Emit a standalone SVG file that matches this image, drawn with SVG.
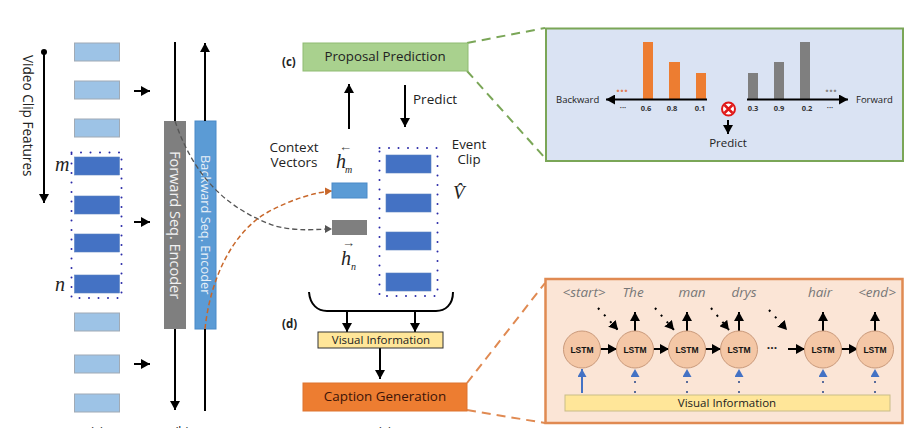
<svg xmlns="http://www.w3.org/2000/svg" width="913" height="428" viewBox="0 0 913 428">
<style>
text{font-family:"Open Sans","Noto Sans","Liberation Sans",sans-serif;fill:#222}
.s{font-family:"Liberation Serif",serif;font-style:italic}
.l{fill:#9dc3e6;stroke:#a0aab5;stroke-width:1}
.d{fill:#4472c4;stroke:#5a80c0;stroke-width:.6}
.k{stroke:#000;stroke-width:2;fill:none}
.dot{fill:none;stroke:#2a2aa8;stroke-width:2;stroke-linecap:round;stroke-dasharray:0 9.5}
.lstm{fill:#f4c7a6;stroke:#c9997a;stroke-width:1}
.lt{font-family:"Liberation Sans",sans-serif;font-size:8.5px;font-weight:bold;text-anchor:middle;fill:#111}
.w{font-size:13.500px;font-style:italic;fill:#777;text-anchor:middle}
.n{font-size:7.5px;font-weight:bold;text-anchor:middle;fill:#333}
</style>
<defs>
<marker id="a" markerUnits="userSpaceOnUse" markerWidth="10" markerHeight="10" refX="9" refY="5" orient="auto"><path d="M0 0L9 5L0 10Z" fill="#000"/></marker>
<marker id="ab" markerUnits="userSpaceOnUse" markerWidth="9" markerHeight="9" refX="8" refY="4.5" orient="auto"><path d="M0 0L8 4.5L0 9Z" fill="#4472c4"/></marker>
<marker id="ao" markerUnits="userSpaceOnUse" markerWidth="8" markerHeight="8" refX="7" refY="4" orient="auto"><path d="M0 0L7 4L0 8Z" fill="#c8672a"/></marker>
<marker id="ag" markerUnits="userSpaceOnUse" markerWidth="8" markerHeight="8" refX="7" refY="4" orient="auto"><path d="M0 0L7 4L0 8Z" fill="#555"/></marker>
</defs>
<rect width="913" height="428" fill="#fff"/>

<g id="clip-features">
<rect class="l" x="74.500" y="43" width="45" height="18"/><rect class="l" x="74.500" y="81" width="45" height="18"/><rect class="l" x="74.500" y="119" width="45" height="18"/>
<rect class="d" x="74.500" y="157" width="45" height="18"/><rect class="d" x="74.500" y="196" width="45" height="18"/><rect class="d" x="74.500" y="234" width="45" height="18"/><rect class="d" x="74.500" y="275" width="45" height="18"/>
<rect class="l" x="74.500" y="313" width="45" height="18"/><rect class="l" x="74.500" y="355" width="45" height="18"/><rect class="l" x="74.500" y="394" width="45" height="18"/>
<rect class="dot" x="71.500" y="152.500" width="50" height="145.500"/>
<text class="s" x="55" y="171" font-size="20">m</text>
<text class="s" x="55" y="291" font-size="20">n</text>
<text transform="translate(23 55) rotate(90)" font-size="13.600">Video Clip Features</text>
</g>
<g id="forward-encoder"><rect x="164" y="121" width="22" height="208" fill="#7f7f7f"/><text transform="translate(170 151) rotate(90)" font-size="14.500" style="fill:#f2f2f2">Forward Seq. Encoder</text></g>
<g id="backward-encoder"><rect x="195" y="121" width="21" height="208" fill="#5b9bd5" stroke="#4a8ac8"/><text transform="translate(201 155) rotate(90)" font-size="12.800" style="fill:#e8f0f8">Backward Seq. Encoder</text></g>

<g id="connectors">
<circle cx="44" cy="52" r="3" fill="#000"/>
<path class="k" d="M44 52V203" marker-end="url(#a)"/>
<path class="k" d="M134 91H150" marker-end="url(#a)"/><path class="k" d="M134 222H150" marker-end="url(#a)"/><path class="k" d="M134 364H150" marker-end="url(#a)"/>
<path class="k" d="M175 42V121"/><path class="k" d="M175 329V410" marker-end="url(#a)"/>
<path class="k" d="M205 121V43" marker-end="url(#a)"/><path class="k" d="M205 329V411"/>
<path d="M175 121C195 180 230 210 275 226C300 232 315 229 332 229" fill="none" stroke="#555" stroke-width="1.300" stroke-dasharray="5 3" marker-end="url(#ag)"/>
<path d="M205 329C210 280 232 232 268 212C290 200 315 192 332 191" fill="none" stroke="#c8672a" stroke-width="1.500" stroke-dasharray="5 3" marker-end="url(#ao)"/>
<path class="k" d="M349 129V84" marker-end="url(#a)"/>
<path class="k" d="M405 85V127" marker-end="url(#a)"/>
<path class="k" d="M309 292C310 305 318 311 327 311H436C445 311 453 305 453 292"/>
<path class="k" d="M347 311V332" marker-end="url(#a)"/><path class="k" d="M415 311V332" marker-end="url(#a)"/>
<path class="k" d="M380 348V379" marker-end="url(#a)"/>
<path d="M467 43L545 28M467 71L545 158" fill="none" stroke="#7aa657" stroke-width="2" stroke-dasharray="9 6"/>
<path d="M467 383L545 283M467 410L545 423" fill="none" stroke="#e08a52" stroke-width="2" stroke-dasharray="9 6"/>
</g>

<g id="proposal-prediction"><rect x="303" y="43" width="165" height="28" fill="#a9d18e" stroke="#8fbb72"/><text x="385" y="61" font-size="13.300" text-anchor="middle">Proposal Prediction</text></g>
<text x="282" y="66" font-size="11.500" font-weight="bold">(c)</text>
<text x="413" y="104" font-size="13.500">Predict</text>
<g id="context-vectors">
<text x="294" y="152" font-size="13.500" text-anchor="middle">Context</text><text x="294" y="167" font-size="13.500" text-anchor="middle">Vectors</text>
<text x="336" y="168" class="s" font-size="20">h</text><text x="339" y="151" font-size="13" style="fill:#444">←</text><text x="345" y="173" class="s" font-size="10">m</text>
<rect x="332" y="183" width="35" height="15" fill="#5b9bd5" stroke="#4a8ac8"/>
<rect x="332" y="220" width="35" height="15" fill="#7f7f7f"/>
<text x="341" y="265" class="s" font-size="20">h</text><text x="342" y="247" font-size="13" style="fill:#444">→</text><text x="351" y="270" class="s" font-size="10">n</text>
</g>
<g id="event-clip">
<rect class="d" x="386" y="155" width="45" height="18"/><rect class="d" x="386" y="194" width="45" height="18"/><rect class="d" x="386" y="232" width="45" height="18"/><rect class="d" x="386" y="273" width="45" height="18"/>
<rect class="dot" x="379.500" y="148" width="58" height="148"/>
<text x="469" y="149" font-size="13.300" text-anchor="middle">Event</text><text x="469" y="164" font-size="13.300" text-anchor="middle">Clip</text>
<text x="453" y="199" class="s" font-size="19">V̂</text>
</g>
<text x="282" y="328" font-size="11.500" font-weight="bold">(d)</text>
<g id="visual-information"><rect x="318" y="332" width="125" height="16" fill="#ffe699" stroke="#333"/><text x="381" y="344" font-size="11.500" text-anchor="middle">Visual Information</text></g>
<g id="caption-generation"><rect x="303" y="383" width="164" height="28" fill="#ed7d31" stroke="#dd7530"/><text x="385" y="401" font-size="13.400" text-anchor="middle" style="fill:#3c1408">Caption Generation</text></g>
<text x="97" y="436" font-size="12" text-anchor="middle">(a)</text><text x="182" y="436" font-size="12" text-anchor="middle">(b)</text><text x="385" y="436" font-size="12" text-anchor="middle">(e)</text>

<g id="detail-proposal">
<rect x="546" y="28.500" width="357" height="132.500" fill="#dae3f3" stroke="#7aa657" stroke-width="2"/>
<rect x="643" y="42" width="10" height="57" fill="#ed7d31"/><rect x="669" y="62" width="11" height="37" fill="#ed7d31"/><rect x="696" y="73" width="10" height="26" fill="#ed7d31"/>
<rect x="748" y="73" width="10" height="26" fill="#7f7f7f"/><rect x="774" y="62" width="10" height="37" fill="#7f7f7f"/><rect x="800" y="42" width="10" height="57" fill="#7f7f7f"/>
<path class="k" d="M707 99.500H606" marker-end="url(#a)"/><path class="k" d="M747 99.500H848" marker-end="url(#a)"/>
<text x="556" y="103" font-size="9.500">Backward</text><text x="856" y="103" font-size="9.500">Forward</text>
<text x="622" y="96" font-size="14" font-weight="bold" text-anchor="middle" style="fill:#e0805a">···</text><text x="831" y="96" font-size="14" font-weight="bold" text-anchor="middle" style="fill:#888">···</text>
<text class="n" x="623" y="110">···</text><text class="n" x="646" y="111">0.6</text><text class="n" x="672" y="111">0.8</text><text class="n" x="700" y="111">0.1</text>
<text class="n" x="753" y="111">0.3</text><text class="n" x="779" y="111">0.9</text><text class="n" x="807" y="111">0.2</text><text class="n" x="830" y="110">···</text>
<circle cx="728.500" cy="109" r="6.500" fill="#fff" stroke="#e01818" stroke-width="2"/><path d="M724.500 105L732.500 113M732.500 105L724.500 113" stroke="#e01818" stroke-width="2.500"/>
<path class="k" d="M728 120V134" marker-end="url(#a)"/>
<text x="728" y="147" font-size="11.500" text-anchor="middle">Predict</text>
</g>

<g id="detail-caption">
<rect x="545.500" y="279" width="357" height="144" fill="#fbe5d6" stroke="#e08a52" stroke-width="2.500"/>
<text class="w" x="584" y="297">&lt;start&gt;</text><text class="w" x="633" y="297">The</text><text class="w" x="692" y="297">man</text><text class="w" x="744" y="297">drys</text><text class="w" x="820" y="297">hair</text><text class="w" x="877" y="297">&lt;end&gt;</text>
<g fill="none" stroke-width="2">
<path class="k" d="M598 308L618 330" stroke-dasharray="2 7" marker-end="url(#a)"/><path class="k" d="M655 308L674 330" stroke-dasharray="2 7" marker-end="url(#a)"/><path class="k" d="M711 308L729 330" stroke-dasharray="2 7" marker-end="url(#a)"/><path class="k" d="M769 310L787 330" stroke-dasharray="2 7" marker-end="url(#a)"/>
</g>
<path class="k" d="M635 331V312" marker-end="url(#a)"/><path class="k" d="M687 331V312" marker-end="url(#a)"/><path class="k" d="M739 331V312" marker-end="url(#a)"/><path class="k" d="M823 331V312" marker-end="url(#a)"/><path class="k" d="M875 331V312" marker-end="url(#a)"/>
<path class="k" d="M600 349H617" marker-end="url(#a)"/><path class="k" d="M652 349H669" marker-end="url(#a)"/><path class="k" d="M704 349H721" marker-end="url(#a)"/><path class="k" d="M788 349H805" marker-end="url(#a)"/><path class="k" d="M841 349H858" marker-end="url(#a)"/>
<text x="772" y="352" font-size="12" font-weight="bold" text-anchor="middle" style="fill:#222">···</text>
<g id="lstm-cells">
<circle class="lstm" cx="582" cy="349.500" r="18.500"/><text class="lt" x="582" y="352.500">LSTM</text>
<circle class="lstm" cx="635" cy="349.500" r="18.500"/><text class="lt" x="635" y="352.500">LSTM</text>
<circle class="lstm" cx="687" cy="349.500" r="18.500"/><text class="lt" x="687" y="352.500">LSTM</text>
<circle class="lstm" cx="739" cy="349.500" r="18.500"/><text class="lt" x="739" y="352.500">LSTM</text>
<circle class="lstm" cx="823" cy="349.500" r="18.500"/><text class="lt" x="823" y="352.500">LSTM</text>
<circle class="lstm" cx="875" cy="349.500" r="18.500"/><text class="lt" x="875" y="352.500">LSTM</text>
</g>
<path d="M582 393V369" stroke="#4472c4" stroke-width="2" fill="none" marker-end="url(#ab)"/>
<g fill="none" stroke="#5a6c9a" stroke-width="2" stroke-dasharray="2 8">
<path d="M635 393V369" marker-end="url(#ab)"/><path d="M687 393V369" marker-end="url(#ab)"/><path d="M739 393V369" marker-end="url(#ab)"/><path d="M823 393V369" marker-end="url(#ab)"/><path d="M875 393V369" marker-end="url(#ab)"/>
</g>
<rect x="565" y="395" width="325" height="16" fill="#ffe699" stroke="#c9bd88"/>
<text x="727" y="407" font-size="11.500" text-anchor="middle">Visual Information</text>
</g>
</svg>
